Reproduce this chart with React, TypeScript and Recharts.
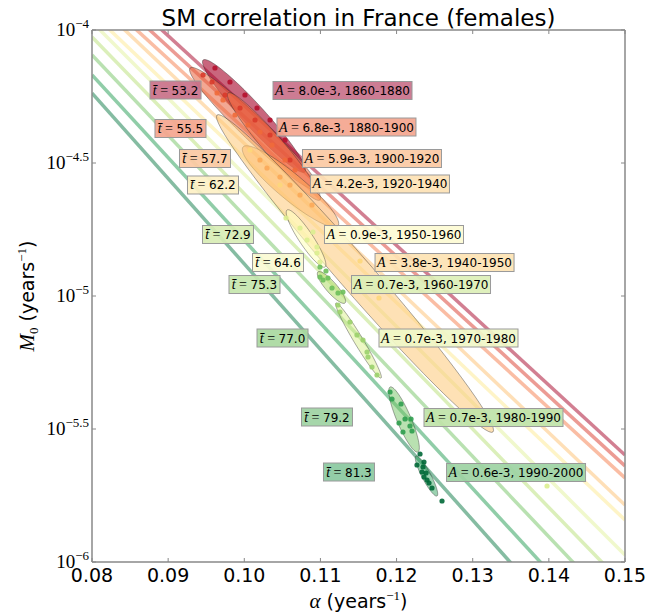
import React from 'react';
import { ComposedChart, XAxis, YAxis, Line, Scatter } from 'recharts';

// ---------------- data ----------------
const periods = ['1860-1880', '1880-1900', '1900-1920', '1920-1940', '1940-1950', '1950-1960', '1960-1970', '1970-1980', '1980-1990', '1990-2000'];
const amplitudes = ['8.0e-3', '6.8e-3', '5.9e-3', '4.2e-3', '3.8e-3', '0.9e-3', '0.7e-3', '0.7e-3', '0.7e-3', '0.6e-3'];
const meanAges = ['53.2', '55.5', '57.7', '62.2', '64.6', '72.9', '75.3', '77.0', '79.2', '81.3'];

const xTicks = [0.08, 0.09, 0.1, 0.11, 0.12, 0.13, 0.14, 0.15];
const yTickExponents = [-6, -5.5, -5, -4.5, -4];
const yTickLabels = ['\u22126', '\u22125.5', '\u22125', '\u22124.5', '\u22124'];

// iso-lines: log10(M0) at alpha = 0.08 and alpha = 0.15
const lineAlpha = [0.08, 0.15];
const lineLogM0 = [
  [-3.759, -5.598], [-3.801, -5.639], [-3.846, -5.684], [-3.883, -5.786], [-3.936, -5.842],
  [-3.970, -5.974], [-4.026, -6.090], [-4.094, -6.207], [-4.169, -6.346], [-4.237, -6.485],
];

// confidence ellipses: [alpha, log10 M0]
const ellipseCenter = [
  [0.10128, -4.3233], [0.10128, -4.3722], [0.10390, -4.4380], [0.10607, -4.5883], [0.11454, -4.9154],
  [0.10811, -4.7838], [0.11145, -4.9680], [0.11500, -5.1673], [0.12098, -5.4643], [0.12393, -5.6767],
];
const ellipseMajorTip = [
  [0.10797, -4.5338], [0.10968, -4.6015], [0.10994, -4.6391], [0.11231, -4.7368], [0.13266, -5.5113],
  [0.11060, -4.8910], [0.11323, -5.0263], [0.11796, -5.3083], [0.12281, -5.5865], [0.12531, -5.7519],
];
const ellipseMinorTip = [
  [0.10021, -4.3512], [0.10019, -4.4048], [0.10291, -4.4625], [0.10498, -4.6259], [0.11286, -4.9574],
  [0.10734, -4.7984], [0.11091, -4.9816], [0.11449, -5.1760], [0.12015, -5.4759], [0.12341, -5.6845],
];

// yearly estimates: [alpha, log10 M0]
const dots1860 = [[0.09615, -4.1429], [0.09812, -4.1955], [0.10009, -4.2444], [0.10167, -4.2932], [0.10338, -4.3383], [0.10535, -4.4135]];
const dots1880 = [[0.09458, -4.1692], [0.09576, -4.1955], [0.09747, -4.2444], [0.09944, -4.2932], [0.10141, -4.3383], [0.10338, -4.3947], [0.10600, -4.4887]];
const dots1900 = [[0.09642, -4.2368], [0.09720, -4.2632], [0.09878, -4.3195], [0.10049, -4.3571], [0.10206, -4.3835], [0.10364, -4.4323], [0.10535, -4.4887], [0.10666, -4.5263]];
const dots1920 = [[0.10206, -4.4887], [0.10298, -4.5188], [0.10469, -4.5526], [0.10600, -4.5827], [0.10732, -4.6203], [0.10889, -4.6579]];
const dots1940 = [[0.10075, -4.4511], [0.10469, -4.5827], [0.11520, -4.8684], [0.11769, -5.0075]];
const dots1950 = [[0.10548, -4.7068], [0.10732, -4.7444], [0.10824, -4.7895], [0.10902, -4.7594], [0.10955, -4.8158], [0.10955, -4.8383], [0.10994, -4.8722], [0.13976, -5.7143]];
const dots1960 = [[0.10994, -4.8910], [0.10994, -4.9286], [0.11034, -4.9398], [0.11099, -4.9323], [0.11152, -4.9699], [0.11231, -4.9887], [0.11296, -4.9850], [0.11073, -4.9060]];
const dots1970 = [[0.11231, -5.0338], [0.11257, -5.0602], [0.11388, -5.0977], [0.11480, -5.1466], [0.11559, -5.1654], [0.11612, -5.2105], [0.11625, -5.2293], [0.11677, -5.2669], [0.11743, -5.2970]];
const dots1980 = [[0.11914, -5.3609], [0.11940, -5.3872], [0.12058, -5.4060], [0.12111, -5.4624], [0.12190, -5.4624], [0.12032, -5.4774], [0.12176, -5.4887], [0.12084, -5.5113], [0.12203, -5.5075]];
const dots1990 = [[0.12308, -5.5940], [0.12360, -5.6241], [0.12268, -5.6353], [0.12347, -5.6429], [0.12334, -5.6617], [0.12387, -5.6654], [0.12360, -5.6805], [0.12400, -5.6917], [0.12426, -5.7030], [0.12465, -5.7218], [0.12597, -5.7707]];
const periodDots = [dots1860, dots1880, dots1900, dots1920, dots1940, dots1950, dots1960, dots1970, dots1980, dots1990];

// ---------------- layout / style ----------------
const meanAgeLabelAt = [
  [0.09097, -4.2256], [0.09162, -4.3703], [0.09484, -4.4831], [0.09589, -4.5827], [0.10443, -4.8741],
  [0.09786, -4.7688], [0.10134, -4.9568], [0.10502, -5.1579], [0.11086, -5.4549], [0.11375, -5.6617],
];
const ampLabelAt = [
  [0.11290, -4.2274], [0.11342, -4.3647], [0.11677, -4.4831], [0.11782, -4.5789], [0.12630, -4.8741],
  [0.11966, -4.7688], [0.12321, -4.9568], [0.12682, -5.1579], [0.13273, -5.4568], [0.13569, -5.6635],
];

const lineColors = ['#a50026', '#da372a', '#f67b4a', '#fdbf6f', '#fde98f', '#e2f29a', '#b7e075', '#74c364', '#229c52', '#0b7a45'];
const ellipseFills = ['#a50026', '#e8603a', '#f46d43', '#fdae61', '#fdc978', '#ffffbf', '#b7e075', '#d9ef8b', '#74c364', '#229c52'];
const ellipseOpacity = [0.6, 0.55, 0.55, 0.55, 0.55, 0.6, 0.6, 0.5, 0.5, 0.45];
const dotColors = ['#b5102e', '#d83a2a', '#f06a3a', '#fba858', '#fdd77a', '#dcee90', '#6cbf5a', '#9bd06c', '#2f9e4f', '#006837'];
const meanAgeBox = ['#c9718a', '#f4a58e', '#fbc9a3', '#fdf0c4', '#fafad2', '#d8edb5', '#c6e6ae', '#a9d9a0', '#9ed3a3', '#8ac9a0'];
const ampBox = ['#c9718a', '#f4a58e', '#fbc9a3', '#fde2b5', '#fde3b3', '#fdfbd4', '#dcefb7', '#f0f7c8', '#bfe3a8', '#9dd3a3'];

const SANS = 'DejaVu Sans';
const SERIF = 'Liberation Serif';
const FRAME = '#888888';

// ---------------- derived tables ----------------
const yTicks = yTickExponents.map((e) => Math.pow(10, e));
const toPoint = (p: number[]) => ({ a: p[0], m: Math.pow(10, p[1]) });

function ellipseOutline(i: number) {
  const [ca, cl] = ellipseCenter[i];
  const ua = ellipseMajorTip[i][0] - ca, ul = ellipseMajorTip[i][1] - cl;
  const va = ellipseMinorTip[i][0] - ca, vl = ellipseMinorTip[i][1] - cl;
  const pts: { a: number; m: number }[] = [];
  for (let k = 0; k < 72; k++) {
    const t = (2 * Math.PI * k) / 72;
    const c = Math.cos(t), s = Math.sin(t);
    pts.push({ a: ca + c * ua + s * va, m: Math.pow(10, cl + c * ul + s * vl) });
  }
  return pts;
}

const meanAgeLabels = periods.map((_, i) => ({ ...toPoint(meanAgeLabelAt[i]), i, kind: 't' }));
const ampLabels = periods.map((_, i) => ({ ...toPoint(ampLabelAt[i]), i, kind: 'A' }));

// ---------------- renderers ----------------
const XTickBottom = (p: any) => (
  <g>
    <line x1={p.x} y1={p.y} x2={p.x} y2={p.y - 4} stroke={FRAME} strokeWidth={1} />
    <text x={p.x} y={p.y + 20} textAnchor="middle" fontFamily={SANS} fontSize={19} fill="#000">
      {Number(p.payload.value).toFixed(2)}
    </text>
  </g>
);
const XTickTop = (p: any) => <line x1={p.x} y1={p.y} x2={p.x} y2={p.y + 4} stroke={FRAME} strokeWidth={1} />;
const YTickLeft = (p: any) => {
  const v = Math.log10(p.payload.value);
  const idx = yTickExponents.findIndex((e) => Math.abs(e - v) < 1e-3);
  return (
    <g>
      <line x1={p.x} y1={p.y} x2={p.x + 4} y2={p.y} stroke={FRAME} strokeWidth={1} />
      <text x={p.x - 3} y={p.y + 6} textAnchor="end" fontFamily={SERIF} fontSize={19} fill="#000">
        10<tspan dy={-8} fontSize={13}>{yTickLabels[idx]}</tspan>
      </text>
    </g>
  );
};
const YTickRight = (p: any) => <line x1={p.x} y1={p.y} x2={p.x - 4} y2={p.y} stroke={FRAME} strokeWidth={1} />;

const TitleLabel = (props: any) => {
  const vb = props.viewBox || { x: 92, y: 0, width: 533, height: 30 };
  return (
    <text x={vb.x + vb.width / 2} y={vb.y + vb.height - 4} textAnchor="middle" fontFamily={SANS} fontSize={23} fill="#000">
      SM correlation in France (females)
    </text>
  );
};
const XLabel = (props: any) => {
  const vb = props.viewBox;
  return (
    <text x={vb.x + vb.width / 2} y={vb.y + 46} textAnchor="middle" fontFamily={SANS} fontSize={19} fill="#000">
      <tspan fontFamily={SERIF} fontStyle="italic" fontSize={21}>{'\u03b1'}</tspan>
      <tspan> (years</tspan>
      <tspan fontFamily={SERIF} fontSize={13} dy={-8}>{'\u22121'}</tspan>
      <tspan dy={8}>)</tspan>
    </text>
  );
};
const YLabel = (props: any) => {
  const vb = props.viewBox;
  const cx = vb.x + 2;
  const cy = vb.y + vb.height / 2;
  return (
    <text x={cx} y={cy} transform={`rotate(-90, ${cx}, ${cy})`} textAnchor="middle" fontFamily={SANS} fontSize={19} fill="#000">
      <tspan fontFamily={SERIF} fontStyle="italic" fontSize={21}>M</tspan>
      <tspan fontFamily={SERIF} fontSize={13} dy={4}>0</tspan>
      <tspan dy={-4}> (years</tspan>
      <tspan fontFamily={SERIF} fontSize={13} dy={-8}>{'\u22121'}</tspan>
      <tspan dy={8}>)</tspan>
    </text>
  );
};

const LabelBox = (p: any) => {
  const d = p.payload;
  const isT = d.kind === 't';
  const w = isT ? 51 : 139;
  const h = 18;
  return (
    <g>
      <rect x={p.cx - w / 2} y={p.cy - h / 2} width={w} height={h} fill={isT ? meanAgeBox[d.i] : ampBox[d.i]} fillOpacity={0.92} stroke="#9a9a9a" strokeWidth={1} />
      <text x={p.cx} y={p.cy + 4.5} textAnchor="middle" fontFamily={SANS} fontSize={12} fill="#000">
        {isT ? (
          <>
            <tspan fontFamily={SERIF} fontStyle="italic" fontSize={14}>{'t\u0304'}</tspan>
            <tspan fontFamily={SERIF} fontSize={14}>{' = '}</tspan>
            <tspan>{meanAges[d.i]}</tspan>
          </>
        ) : (
          <>
            <tspan fontFamily={SERIF} fontStyle="italic" fontSize={14}>A</tspan>
            <tspan fontFamily={SERIF} fontSize={14}>{' = '}</tspan>
            <tspan>{`${amplitudes[d.i]}, ${periods[d.i]}`}</tspan>
          </>
        )}
      </text>
    </g>
  );
};

const emptyShape = () => <g />;

export default function App() {
  return (
    <div style={{ position: 'absolute', left: 0, top: 0, width: 649, height: 615, background: '#fff' }}>
      <ComposedChart width={649} height={615} margin={{ top: 0, right: 0, bottom: 23, left: 32 }}>
        <XAxis xAxisId="b" dataKey="a" type="number" domain={[0.08, 0.15]} ticks={xTicks} interval={0} allowDataOverflow
          height={30} tickSize={0} tickMargin={0} tickLine={false} tick={XTickBottom}
          axisLine={{ stroke: FRAME, strokeWidth: 1.5 }} label={XLabel} />
        <XAxis xAxisId="t" orientation="top" dataKey="a" type="number" domain={[0.08, 0.15]} ticks={xTicks} interval={0} allowDataOverflow
          height={30} tickSize={0} tickMargin={0} tickLine={false} tick={XTickTop}
          axisLine={{ stroke: FRAME, strokeWidth: 1.5 }} label={TitleLabel} />
        <YAxis yAxisId="l" dataKey="m" type="number" scale="log" domain={[1e-6, 1e-4]} ticks={yTicks} interval={0} allowDataOverflow
          width={60} tickSize={0} tickMargin={0} tickLine={false} tick={YTickLeft}
          axisLine={{ stroke: FRAME, strokeWidth: 1.5 }} label={YLabel} />
        <YAxis yAxisId="r" orientation="right" dataKey="m" type="number" scale="log" domain={[1e-6, 1e-4]} ticks={yTicks} interval={0} allowDataOverflow
          width={24} tickSize={0} tickMargin={0} tickLine={false} tick={YTickRight}
          axisLine={{ stroke: FRAME, strokeWidth: 1.5 }} />

        {lineLogM0.map((pair, i) => (
          <Line key={'line' + i} xAxisId="b" yAxisId="l" type="linear"
            data={[toPoint([lineAlpha[0], pair[0]]), toPoint([lineAlpha[1], pair[1]])]}
            dataKey="m" stroke={lineColors[i]} strokeOpacity={0.5} strokeWidth={3.5}
            dot={false} activeDot={false} isAnimationActive={false} />
        ))}

        {periods.map((_, i) => (
          <Scatter key={'ell' + i} xAxisId="b" yAxisId="l" data={ellipseOutline(i)} isAnimationActive={false}
            lineType="joint" shape={emptyShape}
            line={(lp: any) => {
              const pts = lp.points || [];
              const d = pts.map((q: any, k: number) => `${k === 0 ? 'M' : 'L'}${q.x},${q.y}`).join(' ') + ' Z';
              return <path d={d} fill={ellipseFills[i]} fillOpacity={ellipseOpacity[i]} stroke="#333" strokeOpacity={0.6} strokeWidth={0.7} />;
            }} />
        ))}

        {periodDots.map((pts, i) => (
          <Scatter key={'dots' + i} xAxisId="b" yAxisId="l" data={pts.map(toPoint)} isAnimationActive={false}
            shape={(p: any) => <circle cx={p.cx} cy={p.cy} r={2.6} fill={dotColors[i]} fillOpacity={0.9} />} />
        ))}

        <Scatter xAxisId="b" yAxisId="l" data={meanAgeLabels} isAnimationActive={false} shape={LabelBox} />
        <Scatter xAxisId="b" yAxisId="l" data={ampLabels} isAnimationActive={false} shape={LabelBox} />
      </ComposedChart>
    </div>
  );
}
